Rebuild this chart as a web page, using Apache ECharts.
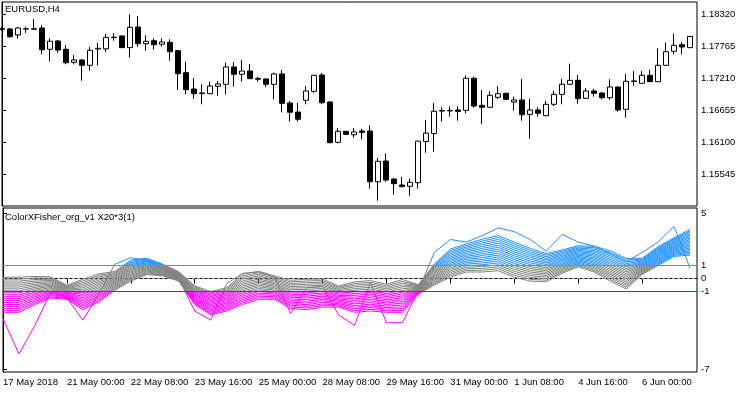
<!DOCTYPE html>
<html><head><meta charset="utf-8">
<script src="https://cdn.jsdelivr.net/npm/echarts@6/dist/echarts.min.js"></script>
<style>html,body{margin:0;padding:0;background:#fff}#c{width:750px;height:394px}</style>
</head><body><div id="c"></div>
<script>
// ---- price data (EURUSD H4), bar index 0 = 17 May 2018 16:00 ----
const openP  = [1.18065,1.18060,1.17956,1.18065,1.18055,1.18077,1.17708,1.17852,1.17708,1.17482,1.17522,1.17430,1.17713,1.17716,1.17910,1.17939,1.17736,1.18094,1.17805,1.17857,1.17795,1.17829,1.17684,1.17302,1.17019,1.16950,1.16938,1.17066,1.17101,1.17401,1.17274,1.17331,1.17200,1.17193,1.17101,1.17280,1.16776,1.16620,1.16823,1.16979,1.17262,1.16794,1.16094,1.16285,1.16226,1.16291,1.16291,1.15411,1.15770,1.15458,1.15354,1.15332,1.15394,1.16108,1.16247,1.16637,1.16640,1.16655,1.16650,1.17205,1.16736,1.16702,1.16875,1.16945,1.16794,1.16829,1.16580,1.16655,1.16556,1.16754,1.16927,1.17101,1.17170,1.16858,1.16985,1.16950,1.16868,1.17054,1.16667,1.17150,1.17118,1.17257,1.17146,1.17430,1.17673,1.17788,1.17736];
const highP  = [1.18094,1.18077,1.18094,1.18100,1.18233,1.18124,1.17899,1.17869,1.17782,1.17609,1.17534,1.17748,1.17823,1.17973,1.17986,1.17945,1.18315,1.18285,1.17951,1.17899,1.17899,1.17881,1.17696,1.17493,1.17210,1.17101,1.17146,1.17158,1.17475,1.17487,1.17522,1.17453,1.17232,1.17200,1.17302,1.17349,1.16811,1.16776,1.17071,1.17262,1.17297,1.16800,1.16343,1.16290,1.16343,1.16331,1.16390,1.15823,1.15904,1.15470,1.15493,1.15458,1.16120,1.16484,1.16776,1.16702,1.16719,1.16719,1.17257,1.17232,1.17002,1.16979,1.17071,1.16950,1.16886,1.17193,1.16851,1.16702,1.16811,1.16985,1.17193,1.17458,1.17262,1.17036,1.17024,1.16967,1.17188,1.17066,1.17279,1.17331,1.17331,1.17349,1.17725,1.17826,1.17978,1.17834,1.17935];
const lowP   = [1.18025,1.17912,1.17892,1.17990,1.18042,1.17621,1.17493,1.17649,1.17448,1.17448,1.17163,1.17337,1.17424,1.17664,1.17857,1.17730,1.17562,1.17753,1.17684,1.17701,1.17753,1.17510,1.17001,1.16927,1.16846,1.16754,1.16930,1.16903,1.16927,1.17059,1.17146,1.17193,1.17146,1.17049,1.16840,1.16615,1.16452,1.16452,1.16754,1.16955,1.16754,1.16078,1.16078,1.16228,1.16174,1.16147,1.15290,1.15082,1.15411,1.15186,1.15314,1.15169,1.15290,1.15914,1.15932,1.16452,1.16539,1.16470,1.16598,1.16695,1.16407,1.16697,1.16846,1.16829,1.16643,1.16470,1.16157,1.16539,1.16550,1.16724,1.16754,1.17089,1.16764,1.16852,1.16886,1.16840,1.16829,1.16625,1.16521,1.17076,1.17112,1.17140,1.17140,1.17425,1.17621,1.17621,1.17730];
const closeP = [1.18055,1.17926,1.18077,1.18058,1.18065,1.17701,1.17847,1.17695,1.17475,1.17522,1.17430,1.17690,1.17725,1.17914,1.17918,1.17736,1.18089,1.17805,1.17847,1.17788,1.17834,1.17666,1.17285,1.17007,1.16938,1.16943,1.17071,1.17106,1.17401,1.17274,1.17331,1.17198,1.17190,1.17101,1.17280,1.16771,1.16615,1.16494,1.16985,1.17257,1.16782,1.16088,1.16285,1.16233,1.16274,1.16268,1.15411,1.15765,1.15441,1.15377,1.15325,1.15401,1.16115,1.16254,1.16633,1.16645,1.16648,1.16632,1.17205,1.16724,1.16702,1.16910,1.16938,1.16841,1.16829,1.16573,1.16655,1.16598,1.16754,1.16927,1.17101,1.17170,1.16851,1.16985,1.16945,1.16868,1.17054,1.16655,1.17153,1.17160,1.17257,1.17146,1.17430,1.17666,1.17777,1.17748,1.17930];

const priceTicks = [1.18320,1.17765,1.17210,1.16655,1.16100,1.15545];
const fisherTicks = [5,1,0,-1,-7];
const timeTickBars = [0,8,16,24,32,40,48,56,64,72,80];
const timeTickLabels = ['17 May 2018','21 May 00:00','22 May 08:00','23 May 16:00','25 May 00:00','28 May 08:00','29 May 16:00','31 May 00:00','1 Jun 08:00','4 Jun 16:00','6 Jun 00:00'];

// ---- ColorXFisher lines, read every 2nd bar ----
const fanBars = [0,2,4,6,8,10,12,14,16,18,20,22,24,26,28,30,32,34,36,38,40,42,44,46,48,50,52,54,56,58,60,62,64,66,68,70,72,74,76,78,80,82,84,86];
const fisherFast = [-3.1,-5.8,-3.6,-1.0,-1.5,-3.2,-1.2,1.1,1.6,1.4,0.8,0.0,-2.5,-3.2,-0.4,0.4,0.5,0.1,-2.7,-0.7,-0.6,-2.8,-3.6,-0.3,-3.4,-3.4,-0.9,2.0,3.0,2.8,3.3,3.9,3.6,3.0,2.1,3.4,2.8,2.5,1.9,1.3,2.0,2.8,4.0,0.8];
const fisher00 = [-2.6,-2.6,-2.0,-1.5,-1.6,-2.4,-1.8,-0.9,-0.2,0.3,0.2,-0.2,-2.0,-2.8,-2.5,-2.0,-1.6,-1.6,-2.3,-2.4,-2.2,-2.2,-2.6,-2.5,-2.6,-2.6,-1.2,-0.5,0.1,0.5,0.5,0.6,0.1,-0.2,-0.25,0.4,0.9,0.5,-0.2,-0.8,0.3,1.0,1.7,1.8];
const fisher01 = [-2.45,-2.45,-1.88,-1.41,-1.54,-2.27,-1.68,-0.82,-0.11,0.37,0.25,-0.16,-1.92,-2.7,-2.4,-1.87,-1.48,-1.5,-2.18,-2.27,-2.08,-2.11,-2.47,-2.37,-2.48,-2.46,-1.16,-0.41,0.22,0.62,0.64,0.75,0.25,-0.06,-0.13,0.5,0.99,0.61,-0.07,-0.67,0.37,1.08,1.78,1.91];
const fisher02 = [-2.3,-2.3,-1.76,-1.32,-1.48,-2.14,-1.56,-0.74,-0.02,0.44,0.3,-0.12,-1.84,-2.6,-2.3,-1.74,-1.36,-1.4,-2.06,-2.14,-1.96,-2.02,-2.34,-2.24,-2.36,-2.32,-1.12,-0.32,0.34,0.74,0.78,0.9,0.4,0.08,-0.01,0.6,1.08,0.72,0.06,-0.54,0.44,1.16,1.86,2.02];
const fisher03 = [-2.15,-2.15,-1.64,-1.23,-1.42,-2.01,-1.44,-0.66,0.07,0.51,0.35,-0.08,-1.76,-2.5,-2.2,-1.61,-1.24,-1.3,-1.94,-2.01,-1.84,-1.93,-2.21,-2.11,-2.24,-2.18,-1.08,-0.23,0.46,0.86,0.92,1.05,0.55,0.22,0.11,0.7,1.17,0.83,0.19,-0.41,0.51,1.24,1.94,2.13];
const fisher04 = [-2.0,-2.0,-1.52,-1.14,-1.36,-1.88,-1.32,-0.58,0.16,0.58,0.4,-0.04,-1.68,-2.4,-2.1,-1.48,-1.12,-1.2,-1.82,-1.88,-1.72,-1.84,-2.08,-1.98,-2.12,-2.04,-1.04,-0.14,0.58,0.98,1.06,1.2,0.7,0.36,0.23,0.8,1.26,0.94,0.32,-0.28,0.58,1.32,2.02,2.24];
const fisher05 = [-1.85,-1.85,-1.4,-1.05,-1.3,-1.75,-1.2,-0.5,0.25,0.65,0.45,0.0,-1.6,-2.3,-2.0,-1.35,-1.0,-1.1,-1.7,-1.75,-1.6,-1.75,-1.95,-1.85,-2.0,-1.9,-1.0,-0.05,0.7,1.1,1.2,1.35,0.85,0.5,0.35,0.9,1.35,1.05,0.45,-0.15,0.65,1.4,2.1,2.35];
const fisher06 = [-1.7,-1.7,-1.28,-0.96,-1.24,-1.62,-1.08,-0.42,0.34,0.72,0.5,0.04,-1.52,-2.2,-1.9,-1.22,-0.88,-1.0,-1.58,-1.62,-1.48,-1.66,-1.82,-1.72,-1.88,-1.76,-0.96,0.04,0.82,1.22,1.34,1.5,1.0,0.64,0.47,1.0,1.44,1.16,0.58,-0.02,0.72,1.48,2.18,2.46];
const fisher07 = [-1.55,-1.55,-1.16,-0.87,-1.18,-1.49,-0.96,-0.34,0.43,0.79,0.55,0.08,-1.44,-2.1,-1.8,-1.09,-0.76,-0.9,-1.46,-1.49,-1.36,-1.57,-1.69,-1.59,-1.76,-1.62,-0.92,0.13,0.94,1.34,1.48,1.65,1.15,0.78,0.59,1.1,1.53,1.27,0.71,0.11,0.79,1.56,2.26,2.57];
const fisher08 = [-1.4,-1.4,-1.04,-0.78,-1.12,-1.36,-0.84,-0.26,0.52,0.86,0.6,0.12,-1.36,-2.0,-1.7,-0.96,-0.64,-0.8,-1.34,-1.36,-1.24,-1.48,-1.56,-1.46,-1.64,-1.48,-0.88,0.22,1.06,1.46,1.62,1.8,1.3,0.92,0.71,1.2,1.62,1.38,0.84,0.24,0.86,1.64,2.34,2.68];
const fisher09 = [-1.25,-1.25,-0.92,-0.69,-1.06,-1.23,-0.72,-0.18,0.61,0.93,0.65,0.16,-1.28,-1.9,-1.6,-0.83,-0.52,-0.7,-1.22,-1.23,-1.12,-1.39,-1.43,-1.33,-1.52,-1.34,-0.84,0.31,1.18,1.58,1.76,1.95,1.45,1.06,0.83,1.3,1.71,1.49,0.97,0.37,0.93,1.72,2.42,2.79];
const fisher10 = [-1.1,-1.1,-0.8,-0.6,-1.0,-1.1,-0.6,-0.1,0.7,1.0,0.7,0.2,-1.2,-1.8,-1.5,-0.7,-0.4,-0.6,-1.1,-1.1,-1.0,-1.3,-1.3,-1.2,-1.4,-1.2,-0.8,0.4,1.3,1.7,1.9,2.1,1.6,1.2,0.95,1.4,1.8,1.6,1.1,0.5,1.0,1.8,2.5,2.9];
const fisher11 = [-0.95,-0.95,-0.68,-0.51,-0.94,-0.97,-0.48,-0.02,0.79,1.07,0.75,0.24,-1.12,-1.7,-1.4,-0.57,-0.28,-0.5,-0.98,-0.97,-0.88,-1.21,-1.17,-1.07,-1.28,-1.06,-0.76,0.49,1.42,1.82,2.04,2.25,1.75,1.34,1.07,1.5,1.89,1.71,1.23,0.63,1.07,1.88,2.58,3.01];
const fisher12 = [-0.8,-0.8,-0.56,-0.42,-0.88,-0.84,-0.36,0.06,0.88,1.14,0.8,0.28,-1.04,-1.6,-1.3,-0.44,-0.16,-0.4,-0.86,-0.84,-0.76,-1.12,-1.04,-0.94,-1.16,-0.92,-0.72,0.58,1.54,1.94,2.18,2.4,1.9,1.48,1.19,1.6,1.98,1.82,1.36,0.76,1.14,1.96,2.66,3.12];
const fisher13 = [-0.65,-0.65,-0.44,-0.33,-0.82,-0.71,-0.24,0.14,0.97,1.21,0.85,0.32,-0.96,-1.5,-1.2,-0.31,-0.04,-0.3,-0.74,-0.71,-0.64,-1.03,-0.91,-0.81,-1.04,-0.78,-0.68,0.67,1.66,2.06,2.32,2.55,2.05,1.62,1.31,1.7,2.07,1.93,1.49,0.89,1.21,2.04,2.74,3.23];
const fisher14 = [-0.5,-0.5,-0.32,-0.24,-0.76,-0.58,-0.12,0.22,1.06,1.28,0.9,0.36,-0.88,-1.4,-1.1,-0.18,0.08,-0.2,-0.62,-0.58,-0.52,-0.94,-0.78,-0.68,-0.92,-0.64,-0.64,0.76,1.78,2.18,2.46,2.7,2.2,1.76,1.43,1.8,2.16,2.04,1.62,1.02,1.28,2.12,2.82,3.34];
const fisher15 = [-0.35,-0.35,-0.2,-0.15,-0.7,-0.45,0.0,0.3,1.15,1.35,0.95,0.4,-0.8,-1.3,-1.0,-0.05,0.2,-0.1,-0.5,-0.45,-0.4,-0.85,-0.65,-0.55,-0.8,-0.5,-0.6,0.85,1.9,2.3,2.6,2.85,2.35,1.9,1.55,1.9,2.25,2.15,1.75,1.15,1.35,2.2,2.9,3.45];
const fisher16 = [-0.2,-0.2,-0.08,-0.06,-0.64,-0.32,0.12,0.38,1.24,1.42,1.0,0.44,-0.72,-1.2,-0.9,0.08,0.32,0.0,-0.38,-0.32,-0.28,-0.76,-0.52,-0.42,-0.68,-0.36,-0.56,0.94,2.02,2.42,2.74,3.0,2.5,2.04,1.67,2.0,2.34,2.26,1.88,1.28,1.42,2.28,2.98,3.56];
const fisher17 = [-0.05,-0.05,0.04,0.03,-0.58,-0.19,0.24,0.46,1.33,1.49,1.05,0.48,-0.64,-1.1,-0.8,0.21,0.44,0.1,-0.26,-0.19,-0.16,-0.67,-0.39,-0.29,-0.56,-0.22,-0.52,1.03,2.14,2.54,2.88,3.15,2.65,2.18,1.79,2.1,2.43,2.37,2.01,1.41,1.49,2.36,3.06,3.67];
const fisher18 = [0.1,0.1,0.16,0.12,-0.52,-0.06,0.36,0.54,1.42,1.56,1.1,0.52,-0.56,-1.0,-0.7,0.34,0.56,0.2,-0.14,-0.06,-0.04,-0.58,-0.26,-0.16,-0.44,-0.08,-0.48,1.12,2.26,2.66,3.02,3.3,2.8,2.32,1.91,2.2,2.52,2.48,2.14,1.54,1.56,2.44,3.14,3.78];
const levelValues = [1, 0, -1];
const levelColors = ['#3cb371', '#909090', '#ff0000'];

// ---- chart ----
const FONT = 'Liberation Sans, Arial, sans-serif';
const X_MAX = 86.875;              // right edge of the plotting area, in bars
const FISHER_MIN = -7.192, FISHER_MAX = 5.423;
const chart = echarts.init(document.getElementById('c'), null, {renderer: 'canvas'});
const candleData = openP.map((o, i) => [i, o, closeP[i], lowP[i], highP[i]]);
const fanLines = [fisher00,fisher01,fisher02,fisher03,fisher04,fisher05,fisher06,fisher07,fisher08,fisher09,fisher10,fisher11,fisher12,fisher13,fisher14,fisher15,fisher16,fisher17,fisher18,fisherFast];
const lineSeries = fanLines.map((arr, n) => ({
  type: 'line', xAxisIndex: 1, yAxisIndex: 1, name: 'fisher' + n,
  data: fanBars.map((b, i) => [b, arr[i]]),
  symbol: 'none', silent: true, animation: false, z: 2,
  lineStyle: {width: 1}
}));
// horizontal levels drawn on an overlaid grid so the colour map never touches them
const levelSeries = levelValues.map((lv, i) => ({
  type: 'line', xAxisIndex: 2, yAxisIndex: 2, z: 10, silent: true,
  data: [[0, lv], [X_MAX, lv]],
  symbol: 'none', color: levelColors[i],
  lineStyle: {color: levelColors[i], type: i === 1 ? [3, 2] : 'solid', width: 1}
}));
const axisText = {color: '#000', fontSize: 9.5, fontFamily: FONT};
const option = {
  backgroundColor: '#fff',
  animation: false,
  title: [
    {text: 'EURUSD,H4', left: 5, top: 4, padding: 0, textStyle: {fontSize: 9.5, fontWeight: 'normal', color: '#000', fontFamily: FONT}},
    {text: 'ColorXFisher_org_v1 X20*3(1)', left: 5, top: 212, padding: 0, textStyle: {fontSize: 9.5, fontWeight: 'normal', color: '#000', fontFamily: FONT}}
  ],
  grid: [
    {left: 2, top: 2, width: 695, height: 204, show: true, borderColor: '#000', borderWidth: 1, backgroundColor: '#fff'},
    {left: 2, top: 208, width: 695, height: 164, show: true, borderColor: '#000', borderWidth: 1, backgroundColor: '#fff'},
    {left: 2, top: 208, width: 695, height: 164, show: false}
  ],
  xAxis: [
    {type: 'value', gridIndex: 0, min: 0, max: X_MAX, show: false},
    {type: 'value', gridIndex: 1, min: 0, max: X_MAX,
     axisLine: {show: true, lineStyle: {color: '#000'}},
     axisTick: {show: true, customValues: timeTickBars, length: 5, lineStyle: {color: '#000'}},
     axisLabel: Object.assign({customValues: timeTickBars, align: 'left', margin: 5,
       formatter: v => timeTickLabels[timeTickBars.indexOf(v)] || ''}, axisText),
     splitLine: {show: false}},
    {type: 'value', gridIndex: 2, min: 0, max: X_MAX, show: false}
  ],
  yAxis: [
    {type: 'value', gridIndex: 0, position: 'right', min: 1.14990, max: 1.18528,
     axisLine: {show: true, lineStyle: {color: '#000'}},
     axisTick: {show: true, customValues: priceTicks, length: 4, lineStyle: {color: '#000'}},
     axisLabel: Object.assign({customValues: priceTicks, margin: 4, formatter: v => v.toFixed(5)}, axisText),
     splitLine: {show: false}},
    {type: 'value', gridIndex: 1, position: 'right', min: FISHER_MIN, max: FISHER_MAX,
     axisLine: {show: true, lineStyle: {color: '#000'}},
     axisTick: {show: true, customValues: fisherTicks, length: 4, lineStyle: {color: '#000'}},
     axisLabel: Object.assign({customValues: fisherTicks, margin: 4, formatter: v => String(v)}, axisText),
     splitLine: {show: false}},
    {type: 'value', gridIndex: 2, min: FISHER_MIN, max: FISHER_MAX, show: false}
  ],
  visualMap: {
    type: 'piecewise', show: false, dimension: 1,
    seriesIndex: lineSeries.map((s, i) => i + 1),
    pieces: [
      {lt: -1, color: '#ff00ff'},
      {gte: -1, lte: 1, color: '#808080'},
      {gt: 1, color: '#1e90ff'}
    ]
  },
  series: [
    {type: 'candlestick', xAxisIndex: 0, yAxisIndex: 0, data: candleData,
     encode: {x: 0, y: [1, 2, 3, 4]}, barWidth: 5, clip: true,
     itemStyle: {color: '#fff', color0: '#000', borderColor: '#000', borderColor0: '#000', borderWidth: 1}}
  ].concat(lineSeries).concat(levelSeries)
};
chart.setOption(option);
</script>
</body></html>
